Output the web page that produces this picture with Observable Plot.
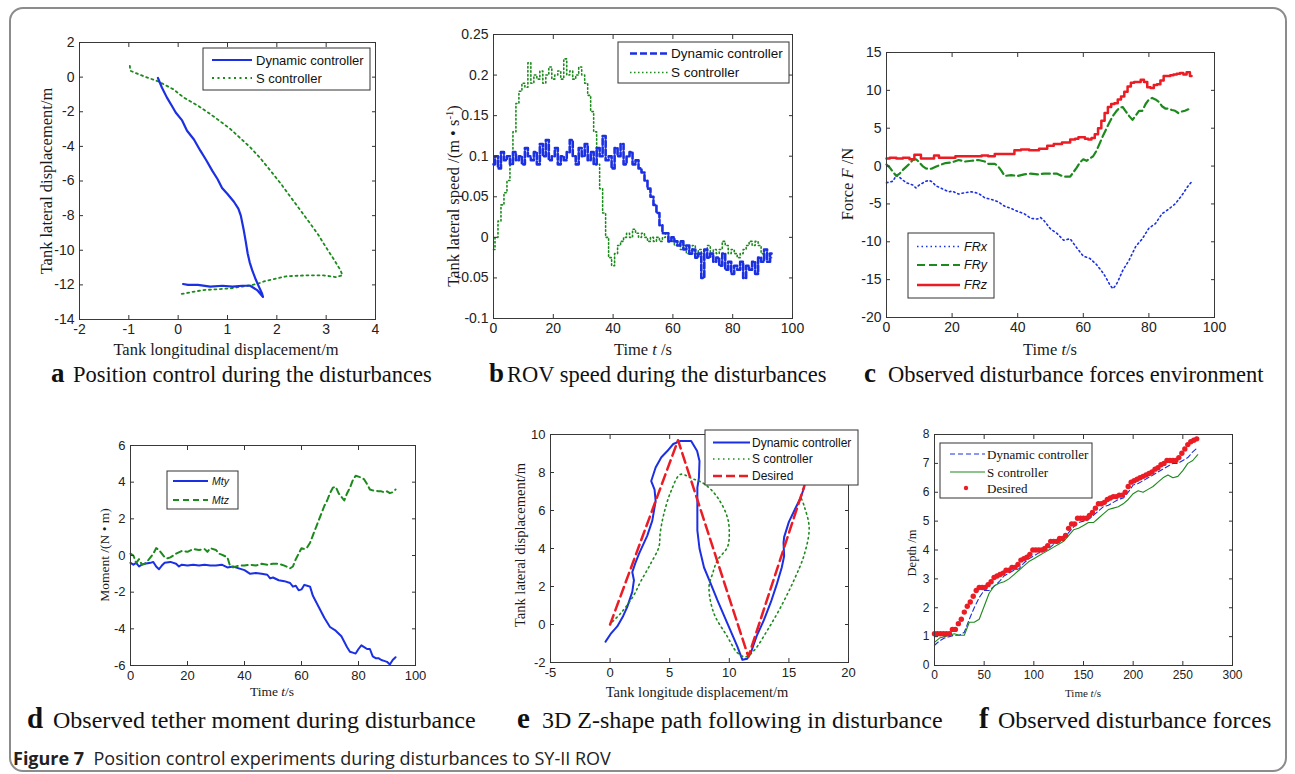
<!DOCTYPE html>
<html><head><meta charset="utf-8">
<script src="https://cdn.jsdelivr.net/npm/d3@7"></script>
<script src="https://cdn.jsdelivr.net/npm/@observablehq/plot@0.6"></script>
<style>
body{margin:0;background:#fff;}
#fig{position:relative;width:1295px;height:774px;overflow:hidden;background:#fff;}
.border{position:absolute;left:9px;top:7px;width:1278px;height:765px;border:2px solid #8c8c8c;border-radius:14px;box-sizing:border-box;}
.lbl{position:absolute;white-space:nowrap;color:#1a1a1a;font-family:"Liberation Serif","Times New Roman",serif;line-height:1;}
.cap{position:absolute;white-space:nowrap;color:#111;font-family:"Liberation Serif","Times New Roman",serif;line-height:30px;}
.cap span{display:inline-block;font-weight:bold;}
.figcap{position:absolute;left:13px;top:746px;white-space:nowrap;font-family:"Open Sans","Noto Sans",sans-serif;font-size:18px;color:#222;line-height:24px;}
</style></head>
<body><div id="fig"><div class="border"></div></div>
<script>
// ---------------- DATA ----------------
// (a) position control, x = longitudinal (m), y = lateral (m)
const aDynX = [-0.41,-0.33,-0.23,-0.12,-0.05,0.08,0.18,0.32,0.45,0.57,0.69,0.8,0.89,1.0,1.13,1.22,1.27,1.33,1.37,1.41,1.45,1.5,1.56,1.62,1.7,1.72,1.6,1.46,1.3,1.1,0.9,0.65,0.4,0.2,0.1];
const aDynY = [-0.05,-0.6,-1.17,-1.7,-2.04,-2.5,-3.1,-3.6,-4.25,-4.8,-5.4,-5.9,-6.4,-6.75,-7.2,-7.6,-8.0,-8.85,-9.5,-10.2,-10.7,-11.15,-11.6,-12.0,-12.5,-12.7,-12.3,-12.05,-12.05,-12.1,-12.05,-12.1,-12.0,-12.0,-11.95];
const aSX = [-0.98,-0.97,-0.7,-0.4,-0.1,0.11,0.4,0.65,0.85,1.06,1.25,1.46,1.67,1.87,2.08,2.28,2.48,2.68,2.85,2.99,3.15,3.29,3.33,3.2,2.95,2.6,2.2,1.74,1.6,1.3,1.06,0.8,0.52,0.3,0.18,0.01];
const aSY = [0.65,0.37,0.05,-0.25,-0.7,-1.17,-1.65,-2.13,-2.55,-3.0,-3.5,-4.05,-4.7,-5.4,-6.15,-6.93,-7.7,-8.47,-9.15,-9.8,-10.5,-11.15,-11.45,-11.55,-11.45,-11.45,-11.5,-11.8,-11.95,-12.1,-12.2,-12.25,-12.3,-12.4,-12.47,-12.55];
const aSeries = ["Dynamic controller", "S controller"];
const aXTicks = [-2,-1,0,1,2,3,4];
const aYTicks = [-14,-12,-10,-8,-6,-4,-2,0,2];

// (b) lateral speed vs time
const bTime = [0,1,2,3,4,5,6,7,8,9,10,11,12,13,14,15,16,17,18,19,20,21,22,23,24,25,26,27,28,29,30,31,32,33,34,35,36,37,38,39,40,41,42,43,44,45,46,47,48,49,50,51,52,53,54,55,56,57,58,59,60,61,62,63,64,65,66,67,68,69,70,71,72,73,74,75,76,77,78,79,80,81,82,83,84,85,86,87,88,89,90,91,92,93];
const bDyn = [0.09,0.1,0.085,0.105,0.095,0.1,0.09,0.105,0.095,0.1,
 0.09,0.11,0.1,0.095,0.105,0.09,0.115,0.1,0.12,0.095,
 0.1,0.11,0.09,0.1,0.095,0.105,0.12,0.1,0.09,0.11,
 0.1,0.115,0.095,0.105,0.09,0.11,0.1,0.125,0.095,0.1,
 0.085,0.11,0.1,0.115,0.09,0.1,0.105,0.09,0.095,0.085,
 0.08,0.07,0.06,0.05,0.04,0.03,0.015,0.005,0.005,-0.005,
 0,-0.005,-0.01,-0.005,-0.015,-0.01,-0.02,-0.015,-0.025,-0.02,
 -0.05,-0.015,-0.025,-0.02,-0.03,-0.025,-0.035,-0.02,-0.04,-0.03,
 -0.045,-0.035,-0.04,-0.03,-0.05,-0.035,-0.04,-0.03,-0.045,-0.025,
 -0.03,-0.015,-0.03,-0.02];
const bS = [-0.015,0,0.02,0.04,0.055,0.07,0.095,0.13,0.165,0.18,
 0.19,0.185,0.215,0.19,0.2,0.195,0.205,0.19,0.2,0.21,
 0.195,0.2,0.205,0.195,0.22,0.2,0.205,0.195,0.2,0.21,
 0.2,0.19,0.175,0.155,0.13,0.09,0.06,0.03,0,-0.025,
 -0.035,-0.02,-0.01,-0.005,0,0.005,0,0.01,0.005,0,
 0.005,0,-0.005,0,-0.005,0,-0.005,0,0.005,-0.005,
 -0.005,-0.01,-0.005,-0.015,-0.01,-0.02,-0.015,-0.01,-0.02,-0.015,
 -0.02,-0.015,-0.01,-0.02,-0.015,-0.02,-0.015,-0.005,-0.01,-0.02,
 -0.015,-0.02,-0.025,-0.02,-0.015,-0.01,-0.005,-0.01,-0.005,-0.01,
 -0.02,-0.015,-0.02,-0.025];
const bSeries = ["Dynamic controller", "S controller"];
const bXTicks = [0,20,40,60,80,100];
const bYTicks = [-0.1,-0.05,0,0.05,0.1,0.15,0.2,0.25];

// (c) disturbance forces [t, F]
const cFRx = [[0,-2.2],[2,-2.0],[3,-1.2],[4,-1.5],[6,-2.2],[8,-2.5],[9,-2.9],[10,-2.5],[12,-2.0],[13,-1.9],[14,-2.1],[15,-2.6],[17,-3.0],[19,-3.4],[20,-3.3],[22,-3.7],[24,-3.5],[26,-3.4],[28,-3.6],[30,-4.2],[32,-4.4],[34,-4.7],[35,-5.0],[36,-5.3],[38,-5.6],[40,-6.0],[42,-6.3],[44,-6.9],[46,-7.0],[47,-6.8],[48,-7.2],[50,-8.3],[52,-8.9],[54,-9.8],[56,-9.6],[58,-10.8],[60,-11.9],[62,-12.2],[64,-13.0],[66,-14.1],[67,-14.8],[68,-15.6],[69,-16.2],[70,-15.7],[71,-14.8],[72,-13.8],[74,-12.4],[76,-10.6],[78,-9.6],[80,-8.2],[82,-7.6],[84,-6.3],[86,-5.7],[88,-5.0],[90,-3.9],[92,-2.6],[93,-2.1]];
const cFRy = [[0,0.2],[1,-0.2],[2,-0.8],[3,-1.3],[4,-1.0],[5,-0.5],[6,-0.1],[7,0.3],[8,0.8],[9,0.9],[10,0.5],[11,0.0],[12,-0.3],[13,-0.4],[14,-0.3],[15,-0.1],[16,0.1],[18,0.4],[20,0.5],[22,0.8],[24,0.6],[26,0.7],[28,0.8],[30,0.6],[31,0.3],[33,0.3],[34,0.0],[35,-0.6],[36,-1.3],[38,-1.2],[40,-1.3],[42,-1.1],[44,-1.0],[46,-1.1],[48,-1.0],[50,-1.0],[52,-1.0],[54,-1.4],[56,-1.4],[57,-0.8],[58,-0.2],[59,0.5],[60,0.9],[61,0.7],[62,1.0],[63,1.3],[64,2.0],[65,3.0],[66,4.0],[67,4.9],[68,5.8],[69,6.6],[70,7.2],[71,7.7],[72,7.8],[73,7.2],[74,6.6],[75,6.1],[76,6.7],[77,7.3],[78,7.3],[79,8.2],[80,8.8],[81,9.0],[82,8.8],[83,8.5],[84,7.9],[85,7.6],[86,7.6],[87,7.4],[88,7.3],[89,7.0],[90,7.2],[91,7.3],[92,7.5]];
const cFRz = [[0,1.0],[2,1.1],[4,1.0],[6,1.1],[8,0.9],[9,1.5],[10,1.5],[11,1.0],[14,1.0],[15,1.4],[17,1.1],[20,1.1],[22,1.3],[25,1.3],[28,1.3],[30,1.4],[32,1.3],[34,1.6],[38,1.6],[40,2.1],[42,2.2],[45,2.1],[48,2.3],[50,2.7],[52,2.9],[55,3.1],[57,3.5],[58,3.6],[59,3.8],[60,3.8],[61,3.6],[62,3.5],[63,3.7],[64,4.2],[65,5.0],[66,6.0],[67,7.0],[68,7.8],[69,8.2],[70,8.3],[71,8.8],[72,9.2],[73,9.8],[74,10.5],[75,11.0],[76,11.1],[77,11.1],[78,11.4],[79,11.1],[80,10.4],[81,10.3],[82,10.7],[83,10.8],[84,11.3],[85,11.9],[86,11.9],[87,12.0],[88,12.1],[89,12.2],[90,12.3],[91,12.1],[92,12.4],[93,11.9]];
const cSeries = ["FRx", "FRy", "FRz"];
const cXTicks = [0,20,40,60,80,100];
const cYTicks = [-20,-15,-10,-5,0,5,10,15];

// (d) tether moment [t, M]
const dMty = [[0,-0.4],[1,-0.5],[2,-0.4],[3,-0.6],[4,-0.5],[5,-0.45],[7,-0.4],[8,-0.35],[9,-0.6],[10,-0.75],[11,-0.55],[12,-0.4],[14,-0.35],[16,-0.45],[17,-0.6],[18,-0.5],[20,-0.55],[22,-0.5],[24,-0.55],[26,-0.5],[28,-0.55],[30,-0.55],[32,-0.5],[34,-0.65],[36,-0.6],[38,-0.7],[40,-0.8],[42,-1.0],[44,-0.95],[46,-1.0],[48,-1.05],[49,-1.25],[50,-1.2],[52,-1.35],[54,-1.4],[56,-1.5],[57,-1.7],[58,-1.65],[59,-1.9],[60,-1.85],[61,-1.6],[62,-1.65],[63,-1.7],[64,-2.2],[66,-2.8],[68,-3.4],[70,-3.9],[72,-4.1],[74,-4.4],[76,-5.0],[77,-5.25],[78,-5.3],[79,-5.35],[80,-5.1],[81,-4.9],[82,-5.0],[83,-5.1],[84,-5.1],[85,-5.5],[86,-5.6],[87,-5.6],[88,-5.7],[89,-5.75],[90,-5.8],[91,-5.95],[92,-5.7],[93,-5.55]];
const dMtz = [[0,0.1],[1,0.0],[2,-0.4],[3,-0.2],[4,-0.5],[5,-0.45],[6,-0.3],[7,-0.1],[8,0.1],[9,0.4],[10,0.3],[11,0.1],[12,-0.1],[13,-0.15],[14,-0.1],[15,0.0],[16,0.1],[18,0.25],[20,0.2],[22,0.35],[24,0.3],[26,0.35],[27,0.2],[28,0.4],[30,0.3],[31,0.1],[32,0.05],[34,-0.1],[35,-0.6],[36,-0.65],[38,-0.55],[40,-0.55],[42,-0.5],[44,-0.55],[46,-0.45],[48,-0.5],[50,-0.45],[52,-0.45],[54,-0.55],[56,-0.7],[57,-0.6],[58,-0.2],[59,0.1],[60,0.4],[61,0.35],[62,0.45],[63,0.7],[64,1.1],[65,1.5],[66,1.9],[67,2.3],[68,2.7],[69,3.0],[70,3.4],[71,3.7],[72,3.75],[73,3.4],[74,3.2],[75,3.0],[76,3.4],[77,3.7],[78,4.1],[79,4.35],[80,4.3],[81,4.25],[82,4.15],[83,3.9],[84,3.6],[85,3.55],[86,3.55],[87,3.5],[88,3.5],[89,3.45],[90,3.5],[91,3.4],[92,3.45],[93,3.6]];
const dSeries = ["Mty", "Mtz"];
const dXTicks = [0,20,40,60,80,100];
const dYTicks = [-6,-4,-2,0,2,4,6];

// (e) Z-shape path [x, y]
const eDyn = [[-0.38,-0.9],[0.1,-0.45],[0.6,-0.1],[1.1,0.45],[1.44,0.93],[1.86,1.72],[2.0,2.33],[1.86,2.76],[2.1,3.2],[2.42,3.72],[3.12,4.68],[3.54,5.47],[3.82,6.5],[3.73,7.1],[3.45,7.55],[3.82,8.26],[4.3,8.8],[4.8,9.13],[5.3,9.5],[5.9,9.66],[6.8,9.66],[7.3,9.13],[7.5,8.6],[7.45,7.7],[7.32,7.2],[7.32,4.95],[7.5,4.0],[7.88,3.0],[8.44,2.15],[9.0,1.28],[9.84,0.06],[10.68,-1.16],[11.1,-1.86],[11.5,-1.8],[11.8,-1.5],[12.3,-0.6],[12.9,0.23],[13.5,1.2],[14.0,2.15],[14.4,3.0],[14.6,3.6],[14.55,4.3],[14.6,4.6],[15.0,5.4],[15.5,6.05],[16.0,6.7],[16.27,7.2]];
const eS = [[0.2,0.15],[0.9,0.6],[1.9,1.45],[2.6,2.3],[3.4,3.2],[4.1,4.1],[4.2,4.8],[4.5,5.8],[5.1,7.0],[5.9,7.9],[6.8,7.7],[7.9,7.4],[9.0,6.7],[9.84,5.64],[10.0,4.77],[9.84,4.07],[9.0,3.37],[8.6,2.68],[8.3,1.98],[8.7,0.6],[9.8,-0.6],[10.7,-1.5],[11.4,-1.7],[12.1,-1.35],[13.2,-0.3],[14.3,0.9],[15.4,2.3],[16.3,3.7],[16.7,5.1],[16.3,6.2],[16.0,6.7]];
const eDesired = [[0,0],[5.7,9.7],[11.6,-1.7],[16.3,7.3]];
const eSeries = ["Dynamic controller", "S controller", "Desired"];
const eXTicks = [-5,0,5,10,15,20];
const eYTicks = [-2,0,2,4,6,8,10];

// (f) depth vs time
const fTime = [0,5,10,15,20,25,30,35,40,45,50,55,60,65,70,75,80,85,90,95,100,105,110,115,120,125,130,135,140,145,150,155,160,165,170,175,180,185,190,195,200,205,210,215,220,225,230,235,240,245,250,255,260,265];
const fDyn = [0.7,0.85,0.95,1.0,1.05,1.05,1.15,1.6,2.0,2.35,2.6,2.6,2.75,2.9,3.1,3.2,3.3,3.35,3.55,3.7,3.8,3.9,3.95,4.05,4.2,4.25,4.4,4.6,4.8,4.95,5.0,5.05,5.2,5.35,5.5,5.55,5.65,5.75,5.8,6.0,6.25,6.3,6.4,6.5,6.6,6.7,6.8,6.9,7.0,7.0,7.1,7.2,7.4,7.55];
const fS = [0.8,0.95,1.0,1.05,1.1,1.05,1.05,1.5,1.5,1.6,2.05,2.5,2.75,2.85,2.9,3.0,3.15,3.3,3.45,3.6,3.7,3.8,3.9,4.0,4.1,4.2,4.3,4.5,4.7,4.75,4.85,4.95,4.95,5.1,5.25,5.4,5.45,5.5,5.6,5.75,5.95,6.05,6.0,6.1,6.2,6.35,6.5,6.6,6.5,6.55,6.75,7.0,7.1,7.3];
const fDesired = [[0,1.1],[3,1.1],[6,1.1],[9,1.1],[12,1.1],[15,1.1],[18,1.25],[21,1.25],[24,1.45],[27,1.6],[30,1.85],[33,2.05],[36,2.2],[39,2.4],[42,2.6],[45,2.7],[48,2.7],[51,2.7],[54,2.8],[57,2.9],[60,3.05],[63,3.1],[66,3.15],[69,3.2],[72,3.3],[75,3.3],[78,3.4],[81,3.4],[84,3.5],[87,3.65],[90,3.7],[93,3.75],[96,3.85],[99,4.0],[102,4.0],[105,4.0],[108,4.0],[111,4.05],[114,4.15],[117,4.3],[120,4.3],[123,4.3],[126,4.4],[129,4.4],[132,4.5],[135,4.75],[138,4.9],[141,4.9],[144,5.1],[147,5.1],[150,5.1],[153,5.1],[156,5.2],[159,5.3],[162,5.45],[165,5.6],[168,5.6],[171,5.65],[174,5.75],[177,5.8],[180,5.85],[183,5.85],[186,5.9],[189,5.9],[192,6.0],[195,6.2],[198,6.35],[201,6.4],[204,6.45],[207,6.5],[210,6.55],[213,6.6],[216,6.65],[219,6.7],[222,6.8],[225,6.85],[228,6.95],[231,7.0],[234,7.1],[237,7.1],[240,7.1],[243,7.1],[246,7.2],[249,7.35],[252,7.5],[255,7.65],[258,7.75],[261,7.8],[264,7.85]];
const fSeries = ["Dynamic controller", "S controller", "Desired"];
const fXTicks = [0,50,100,150,200,250,300];
const fYTicks = [0,1,2,3,4,5,6,7,8];

// ---------------- DRAWING ----------------
const BLUE = "#1b2fe3", GREEN = "#1c8a1c", RED = "#ec1c24";
const SANS = "'Liberation Sans', Arial, sans-serif";
const SERIF = "'Liberation Serif', 'Times New Roman', serif";
const fig = document.getElementById("fig");
const num = d => String(+d.toFixed(3));
const pairs = a => a.map(([x, y]) => ({x, y}));

function panel({L, T, R, B, xDomain, yDomain, xTicks, yTicks, fs, marks}) {
  const mL = 46, mR = 10, mT = 10, mB = 26, tk = 4;
  const txt = {label: null, tickSize: 0, tickPadding: 5, fontSize: fs, fontFamily: SANS, fill: "#222", tickFormat: num};
  const tck = {label: null, tickSize: tk, tickFormat: () => "", fill: "none", stroke: "#333"};
  const svg = Plot.plot({
    width: (R - L) + mL + mR, height: (B - T) + mT + mB,
    marginLeft: mL, marginRight: mR, marginTop: mT, marginBottom: mB,
    x: {domain: xDomain}, y: {domain: yDomain},
    style: {background: "transparent", overflow: "visible", fontFamily: SANS, fontSize: fs + "px", color: "#222"},
    marks: [
      ...marks,
      Plot.frame({stroke: "#3a3a3a", strokeWidth: 1}),
      Plot.axisX(xTicks, {anchor: "bottom", ...txt}),
      Plot.axisY(yTicks, {anchor: "left", ...txt}),
      Plot.axisX(xTicks, {anchor: "bottom", dy: -tk, ...tck}),
      Plot.axisX(xTicks, {anchor: "top", dy: tk, ...tck}),
      Plot.axisY(yTicks, {anchor: "left", dx: tk, ...tck}),
      Plot.axisY(yTicks, {anchor: "right", dx: -tk, ...tck})
    ]
  });
  svg.style.position = "absolute";
  svg.style.left = (L - mL) + "px";
  svg.style.top = (T - mT) + "px";
  fig.append(svg);
}

function legend(box, items, font) {
  const svg = d3.create("svg").attr("width", box.w + 4).attr("height", box.h + 4)
    .style("position", "absolute").style("left", (box.x - 2) + "px").style("top", (box.y - 2) + "px").style("overflow", "visible");
  svg.append("rect").attr("x", 2).attr("y", 2).attr("width", box.w).attr("height", box.h)
    .attr("fill", "#fff").attr("stroke", "#333").attr("stroke-width", 1);
  for (const it of items) {
    const y = it.y - box.y + 2;
    if (it.dot) {
      svg.append("circle").attr("cx", it.dotX - box.x + 2).attr("cy", y).attr("r", 2.2).attr("fill", it.color);
    } else {
      svg.append("line").attr("x1", box.l1 - box.x + 2).attr("x2", box.l2 - box.x + 2).attr("y1", y).attr("y2", y)
        .attr("stroke", it.color).attr("stroke-width", it.w).attr("stroke-dasharray", it.dash || null);
    }
    svg.append("text").attr("x", box.tx - box.x + 2).attr("y", y).attr("dy", "0.35em")
      .attr("font-family", font.family).attr("font-size", font.size).attr("font-style", font.style || "normal")
      .attr("fill", "#111").text(it.label);
  }
  fig.append(svg.node());
}

function label(html, cx, cy, size, rotate) {
  const d = document.createElement("div");
  d.className = "lbl";
  d.innerHTML = html;
  d.style.fontSize = size + "px";
  d.style.left = cx + "px";
  d.style.top = cy + "px";
  d.style.transform = "translate(-50%,-50%)" + (rotate ? " rotate(-90deg)" : "");
  fig.append(d);
}

// letter at letterLeft, text starting at textLeft, vertically centred on cy
function caption(letter, text, letterLeft, textLeft, cy, size, letterSize) {
  const d = document.createElement("div");
  d.className = "cap";
  d.style.left = letterLeft + "px";
  d.style.top = (cy - 17) + "px";
  d.style.fontSize = size + "px";
  const b = document.createElement("span");
  b.textContent = letter;
  b.style.fontSize = letterSize + "px";
  b.style.width = (textLeft - letterLeft) + "px";
  d.append(b, document.createTextNode(text));
  fig.append(d);
}

// (a)
panel({L: 79, T: 42, R: 375, B: 319, xDomain: [-2, 4], yDomain: [-14, 2], xTicks: aXTicks, yTicks: aYTicks, fs: 14, marks: [
  Plot.line(aSX.map((x, i) => ({x, y: aSY[i]})), {x: "x", y: "y", stroke: GREEN, strokeWidth: 1.8, strokeDasharray: "2,3.5"}),
  Plot.line(aDynX.map((x, i) => ({x, y: aDynY[i]})), {x: "x", y: "y", stroke: BLUE, strokeWidth: 2.2})
]});
legend({x: 203, y: 48, w: 167, h: 42, l1: 212, l2: 252, tx: 256}, [
  {label: aSeries[0], y: 60, color: BLUE, w: 2.2},
  {label: aSeries[1], y: 78, color: GREEN, w: 1.8, dash: "2,3.5"}
], {family: SANS, size: 13});
label("Tank lateral displacement/m", 47, 181, 16.5, true);
label("Tank longitudinal displacement/m", 226, 350, 16.5);

// (b)
panel({L: 493, T: 34, R: 792, B: 318, xDomain: [0, 100], yDomain: [-0.1, 0.25], xTicks: bXTicks, yTicks: bYTicks, fs: 14, marks: [
  Plot.line(bTime.map((t, i) => ({t, v: bS[i]})), {x: "t", y: "v", stroke: GREEN, strokeWidth: 1.6, strokeDasharray: "1.5,2.5", curve: "step"}),
  Plot.line(bTime.map((t, i) => ({t, v: bDyn[i]})), {x: "t", y: "v", stroke: BLUE, strokeWidth: 2.6, strokeDasharray: "6,2.5", curve: "step"})
]});
legend({x: 618, y: 42, w: 171, h: 41, l1: 630, l2: 668, tx: 671}, [
  {label: bSeries[0], y: 53.5, color: BLUE, w: 2.6, dash: "7,3"},
  {label: bSeries[1], y: 72.5, color: GREEN, w: 1.6, dash: "1.5,2.5"}
], {family: SANS, size: 13.5});
label("Tank lateral speed /(m • s<sup style='font-size:0.65em'>-1</sup>)", 453, 196, 16.5, true);
label("Time <i>t</i> /s", 643, 350, 16.5);

// (c)
panel({L: 886, T: 52, R: 1214, B: 317, xDomain: [0, 100], yDomain: [-20, 15], xTicks: cXTicks, yTicks: cYTicks, fs: 14, marks: [
  Plot.line(pairs(cFRx), {x: "x", y: "y", stroke: BLUE, strokeWidth: 1.6, strokeDasharray: "1.5,3"}),
  Plot.line(pairs(cFRy), {x: "x", y: "y", stroke: GREEN, strokeWidth: 2.2, strokeDasharray: "8,4"}),
  Plot.line(pairs(cFRz), {x: "x", y: "y", stroke: RED, strokeWidth: 2.5, curve: "step"})
]});
legend({x: 908, y: 233, w: 86, h: 65, l1: 917, l2: 960, tx: 964}, [
  {label: cSeries[0], y: 246.5, color: BLUE, w: 1.6, dash: "1.5,3"},
  {label: cSeries[1], y: 265, color: GREEN, w: 2.2, dash: "8,4"},
  {label: cSeries[2], y: 285, color: RED, w: 2.5}
], {family: SANS, size: 12.5, style: "italic"});
label("Force <i>F</i> /N", 848, 184, 16.5, true);
label("Time <i>t</i>/s", 1050, 350, 16.5);

// (d)
panel({L: 130, T: 445, R: 415, B: 665, xDomain: [0, 100], yDomain: [-6, 6], xTicks: dXTicks, yTicks: dYTicks, fs: 13, marks: [
  Plot.line(pairs(dMty), {x: "x", y: "y", stroke: BLUE, strokeWidth: 2}),
  Plot.line(pairs(dMtz), {x: "x", y: "y", stroke: GREEN, strokeWidth: 2, strokeDasharray: "6,4"})
]});
legend({x: 167, y: 471, w: 71, h: 38, l1: 173, l2: 208, tx: 212}, [
  {label: dSeries[0], y: 481, color: BLUE, w: 2},
  {label: dSeries[1], y: 500, color: GREEN, w: 2, dash: "6,4"}
], {family: SANS, size: 10.5, style: "italic"});
label("Moment /(N • m)", 105, 555, 13.5, true);
label("Time <i>t</i>/s", 272, 692, 13.5);

// (e)
panel({L: 550, T: 434, R: 848, B: 662, xDomain: [-5, 20], yDomain: [-2, 10], xTicks: eXTicks, yTicks: eYTicks, fs: 13, marks: [
  Plot.line(pairs(eDyn), {x: "x", y: "y", stroke: BLUE, strokeWidth: 2}),
  Plot.line(pairs(eS), {x: "x", y: "y", stroke: GREEN, strokeWidth: 1.6, strokeDasharray: "1.5,3.5", curve: "catmull-rom"}),
  Plot.line(pairs(eDesired), {x: "x", y: "y", stroke: RED, strokeWidth: 2.5, strokeDasharray: "10,5"})
]});
legend({x: 705, y: 430, w: 153, h: 55, l1: 713, l2: 750, tx: 752}, [
  {label: eSeries[0], y: 442.5, color: BLUE, w: 2},
  {label: eSeries[1], y: 459, color: GREEN, w: 1.6, dash: "1.5,3.5"},
  {label: eSeries[2], y: 476, color: RED, w: 2.5, dash: "9,4"}
], {family: SANS, size: 12});
label("Tank lateral displacement/m", 520, 545, 14.5, true);
label("Tank longitude displacement/m", 697, 692, 14.5);

// (f)
panel({L: 934, T: 434, R: 1232, B: 665, xDomain: [0, 300], yDomain: [0, 8], xTicks: fXTicks, yTicks: fYTicks, fs: 12, marks: [
  Plot.line(fTime.map((t, i) => ({t, v: fDyn[i]})), {x: "t", y: "v", stroke: BLUE, strokeWidth: 1.1, strokeDasharray: "5,3"}),
  Plot.line(fTime.map((t, i) => ({t, v: fS[i]})), {x: "t", y: "v", stroke: GREEN, strokeWidth: 1.1}),
  Plot.dot(pairs(fDesired), {x: "x", y: "y", r: 2.7, fill: RED, stroke: "none"})
]});
legend({x: 940, y: 443, w: 152, h: 55, l1: 950, l2: 985, tx: 987}, [
  {label: fSeries[0], y: 454, color: BLUE, w: 1.1, dash: "5,3"},
  {label: fSeries[1], y: 472, color: GREEN, w: 1.1},
  {label: fSeries[2], y: 488, color: RED, dot: true, dotX: 966}
], {family: SERIF, size: 13});
label("Depth /m", 912, 553, 12.5, true);
label("Time <i>t</i>/s", 1083, 693, 11);

// captions
caption("a", "Position control during the disturbances", 51, 73, 375, 22.5, 27);
caption("b", "ROV speed during the disturbances", 489, 507, 375, 22.5, 27);
caption("c", "Observed disturbance forces environment", 864, 888, 375, 22.5, 27);
caption("d", "Observed tether moment during disturbance", 27, 53, 720, 24, 29);
caption("e", "3D Z-shape path following in disturbance", 517, 542, 720, 24, 29);
caption("f", "Observed disturbance forces", 979, 998, 720, 24, 29);

const fc = document.createElement("div");
fc.className = "figcap";
fc.innerHTML = "<b>Figure 7</b>&nbsp; Position control experiments during disturbances to SY-II ROV";
fig.append(fc);
</script>
</body></html>
